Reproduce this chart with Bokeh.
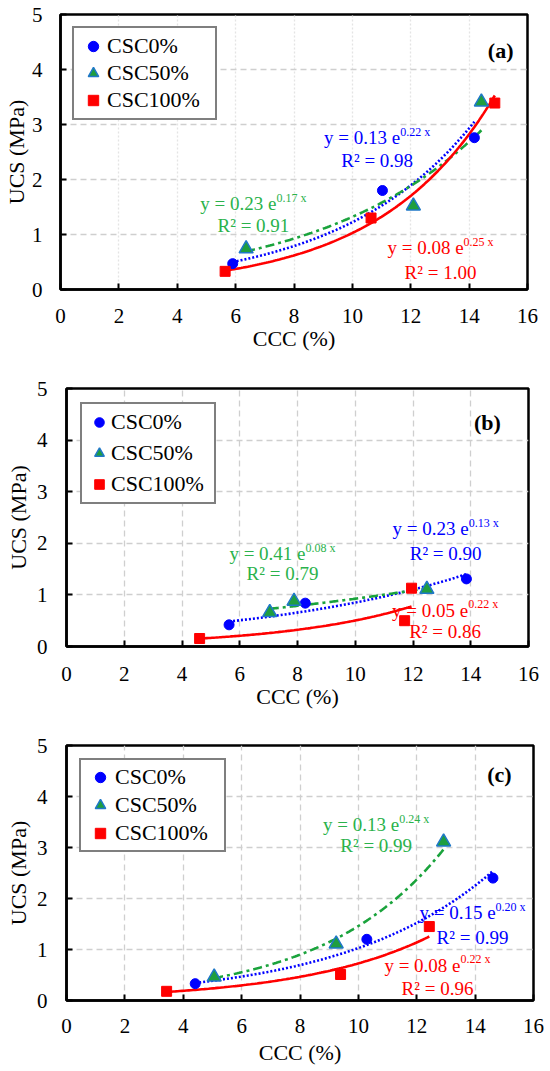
import numpy as np
from bokeh.plotting import figure
from bokeh.models import Range1d, FixedTicker, Legend, LegendItem
from bokeh.core.properties import value
from bokeh.embed import file_html
from bokeh.resources import INLINE

FONT = "Liberation Serif"

# ---------------- data ----------------
series_labels = ["CSC0%", "CSC50%", "CSC100%"]
x_ticks = [0, 2, 4, 6, 8, 10, 12, 14, 16]
y_ticks = [0, 1, 2, 3, 4, 5]

# panel (a)
a_ccc_0 = [5.90, 11.03, 14.18]
a_ucs_0 = [0.47, 1.80, 2.76]
a_ccc_50 = [6.36, 12.09, 14.42]
a_ucs_50 = [0.74, 1.52, 3.41]
a_ccc_100 = [5.64, 10.64, 14.88]
a_ucs_100 = [0.33, 1.30, 3.39]

# panel (b)
b_ccc_0 = [5.63, 8.27, 13.85]
b_ucs_0 = [0.42, 0.84, 1.31]
b_ccc_50 = [7.04, 7.88, 12.48]
b_ucs_50 = [0.66, 0.88, 1.11]
b_ccc_100 = [4.61, 11.71, 11.95]
b_ucs_100 = [0.155, 0.50, 1.13]

# panel (c)
c_ccc_0 = [4.41, 10.29, 14.61]
c_ucs_0 = [0.33, 1.20, 2.40]
c_ccc_50 = [5.06, 9.24, 12.92]
c_ucs_50 = [0.46, 1.11, 3.11]
c_ccc_100 = [3.43, 9.39, 12.43]
c_ucs_100 = [0.18, 0.51, 1.45]

# trend-line equation labels (main part, exponent, R2)
a_eq_main = ["y = 0.13 e", "y = 0.23 e", "y = 0.08 e"]
a_eq_sup = ["0.22 x", "0.17 x", "0.25 x"]
a_r2 = ["R\u00b2 = 0.98", "R\u00b2 = 0.91", "R\u00b2 = 1.00"]
b_eq_main = ["y = 0.23 e", "y = 0.41 e", "y = 0.05 e"]
b_eq_sup = ["0.13 x", "0.08 x", "0.22 x"]
b_r2 = ["R\u00b2 = 0.90", "R\u00b2 = 0.79", "R\u00b2 = 0.86"]
c_eq_main = ["y = 0.15 e", "y = 0.13 e", "y = 0.08 e"]
c_eq_sup = ["0.20 x", "0.24 x", "0.22 x"]
c_r2 = ["R\u00b2 = 0.99", "R\u00b2 = 0.99", "R\u00b2 = 0.96"]
panel_tags = ["(a)", "(b)", "(c)"]

# label anchor positions (data units): eq centre x, eq y, r2 y  per series
a_lab_pos = [(10.85, 2.76, 2.35), (6.61, 1.56, 1.16), (13.02, 0.76, 0.31)]
b_lab_pos = [(13.13, 2.28, 1.80), (7.48, 1.80, 1.41), (13.11, 0.70, 0.29)]
c_lab_pos = [(13.91, 1.72, 1.23), (10.61, 3.45, 3.04), (12.71, 0.69, 0.23)]
tag_pos = [(15.52, 4.35), (15.04, 4.35), (15.25, 4.43)]

# ---------------- styles ----------------
BLUE = "#0000ff"
RED = "#ff0000"
GREEN_FILL = "#1f9e3f"
GREEN_LINE = "#1aa33c"
GREEN_TEXT = "#2ab24b"
TRI_EDGE = "#1f78c8"

CW = {'y': 0.5, ' ': 0.25, '=': 0.564, '.': 0.25, 'e': 0.444, 'x': 0.5,
      'R': 0.667, '\u00b2': 0.3}


def tw(s, size):
    return sum(CW.get(ch, 0.5) for ch in s) * size


def expfit(x, y):
    b, lna = np.polyfit(np.array(x, float), np.log(np.array(y, float)), 1)
    xs = np.linspace(min(x), max(x), 120)
    return xs, np.exp(lna + b * xs)


def make_panel(idx, data, eq_main, eq_sup, r2, lab_pos, geo, leg):
    p = figure(frame_width=geo["fw"], frame_height=geo["fh"],
               min_border_left=geo["l"], min_border_right=geo["r"],
               min_border_top=geo["t"], min_border_bottom=geo["b"],
               x_range=Range1d(0, 16), y_range=Range1d(0, 5),
               output_backend="svg", toolbar_location=None,
               background_fill_color="white", border_fill_color="white")
    p.outline_line_color = "black"
    p.outline_line_width = 2.5
    p.outline_line_alpha = 1

    for ax in (p.xaxis[0], p.yaxis[0]):
        ax.axis_line_color = "black"
        ax.axis_line_width = 2.5
        ax.major_tick_in = 6
        ax.major_tick_out = 0
        ax.major_tick_line_width = 2
        ax.major_tick_line_color = "black"
        ax.minor_tick_line_color = None
        ax.major_label_text_font = FONT
        ax.major_label_text_font_size = "21px"
        ax.major_label_text_color = "black"
        ax.axis_label_text_font = FONT
        ax.axis_label_text_font_size = "22px"
        ax.axis_label_text_font_style = "normal"
        ax.axis_label_text_color = "black"
    p.xaxis.ticker = FixedTicker(ticks=x_ticks)
    p.yaxis.ticker = FixedTicker(ticks=y_ticks)
    p.xaxis.axis_label = "CCC (%)"
    p.yaxis.axis_label = "UCS (MPa)"
    p.xaxis.major_label_standoff = geo["xls"]
    p.xaxis.axis_label_standoff = geo["xas"]
    p.yaxis.major_label_standoff = geo["yls"]
    p.yaxis.axis_label_standoff = geo["yas"]

    p.ygrid.grid_line_color = "#cfcfcf"
    p.ygrid.grid_line_dash = "6 4"
    p.ygrid.grid_line_width = 1.3
    p.xgrid.grid_line_color = geo["xgc"]
    p.xgrid.grid_line_dash = geo["xgd"]
    p.xgrid.grid_line_width = 1.3

    (x0, y0), (x50, y50), (x100, y100) = data

    # trend lines (exponential fits of each series)
    xs, ys = expfit(x0, y0)
    p.line(xs, ys, line_color=BLUE, line_width=2.6, line_dash="2 2")
    xs, ys = expfit(x50, y50)
    p.line(xs, ys, line_color=GREEN_LINE, line_width=2.6, line_dash="9 4 3 4")
    xs, ys = expfit(x100, y100)
    p.line(xs, ys, line_color=RED, line_width=2.6)

    r0 = p.scatter(x0, y0, marker="circle", size=10, fill_color=BLUE, line_color=BLUE)
    r50 = p.scatter(x50, y50, marker="triangle", size=14, fill_color=GREEN_FILL,
                    line_color=TRI_EDGE, line_width=1.5)
    r100 = p.scatter(x100, y100, marker="square", size=10, fill_color=RED, line_color=RED)

    legend = Legend(items=[LegendItem(label=series_labels[0], renderers=[r0]),
                           LegendItem(label=series_labels[1], renderers=[r50]),
                           LegendItem(label=series_labels[2], renderers=[r100])],
                    location="top_left", margin=leg["m"], padding=leg["p"],
                    spacing=leg["s"], glyph_width=leg["gw"], glyph_height=26,
                    label_height=26, label_width=leg["lw"], label_standoff=0,
                    label_text_font=FONT, label_text_font_size="22px",
                    label_text_color="black",
                    border_line_color="black", border_line_width=2,
                    background_fill_color="white", background_fill_alpha=1)
    p.add_layout(legend)

    colors = [BLUE, GREEN_TEXT, RED]
    for k in range(3):
        cx, ey, ry = lab_pos[k]
        wm = tw(eq_main[k], 19)
        ws = tw(eq_sup[k], 12)
        tot = wm + ws
        p.text(x=[cx], y=[ey], text=[eq_main[k]], x_offset=-tot / 2,
               text_align="left", text_baseline="middle",
               text_font=value(FONT), text_font_size="19px", text_color=colors[k])
        p.text(x=[cx], y=[ey], text=[eq_sup[k]], x_offset=-tot / 2 + wm, y_offset=-6,
               text_align="left", text_baseline="middle",
               text_font=value(FONT), text_font_size="12px", text_color=colors[k])
        p.text(x=[cx], y=[ry], text=[r2[k]], text_align="center", text_baseline="middle",
               text_font=value(FONT), text_font_size="19px", text_color=colors[k])

    tx, ty = tag_pos[idx]
    p.text(x=[tx], y=[ty], text=[panel_tags[idx]], text_align="right",
           text_baseline="middle", text_font=value(FONT), text_font_size="22px",
           text_font_style="bold", text_color="black")
    return p


geo_a = dict(fw=467, fh=275, l=60, r=23, t=14, b=71, xls=19, xas=0, yls=18, yas=0,
             xgc="#e4e4e4", xgd="2 2")
geo_b = dict(fw=462, fh=258, l=66, r=22, t=28, b=70, xls=20, xas=0, yls=19, yas=3,
             xgc="#cfcfcf", xgd="6 4")
geo_c = dict(fw=467, fh=255, l=66, r=17, t=29, b=71, xls=18, xas=4, yls=19, yas=3,
             xgc="#cfcfcf", xgd="6 4")

leg_a = dict(m=12, p=5, s=1, gw=28, lw=103)
leg_b = dict(m=14, p=5, s=5, gw=24, lw=98)
leg_c = dict(m=13, p=4, s=2, gw=30, lw=105)

pa = make_panel(0, [(a_ccc_0, a_ucs_0), (a_ccc_50, a_ucs_50), (a_ccc_100, a_ucs_100)],
                a_eq_main, a_eq_sup, a_r2, a_lab_pos, geo_a, leg_a)
pb = make_panel(1, [(b_ccc_0, b_ucs_0), (b_ccc_50, b_ucs_50), (b_ccc_100, b_ucs_100)],
                b_eq_main, b_eq_sup, b_r2, b_lab_pos, geo_b, leg_b)
pc = make_panel(2, [(c_ccc_0, c_ucs_0), (c_ccc_50, c_ucs_50), (c_ccc_100, c_ucs_100)],
                c_eq_main, c_eq_sup, c_r2, c_lab_pos, geo_c, leg_c)

# three independent roots stacked on the page (no frame alignment between panels)
open("out.html", "w").write(file_html([pa, pb, pc], INLINE))
